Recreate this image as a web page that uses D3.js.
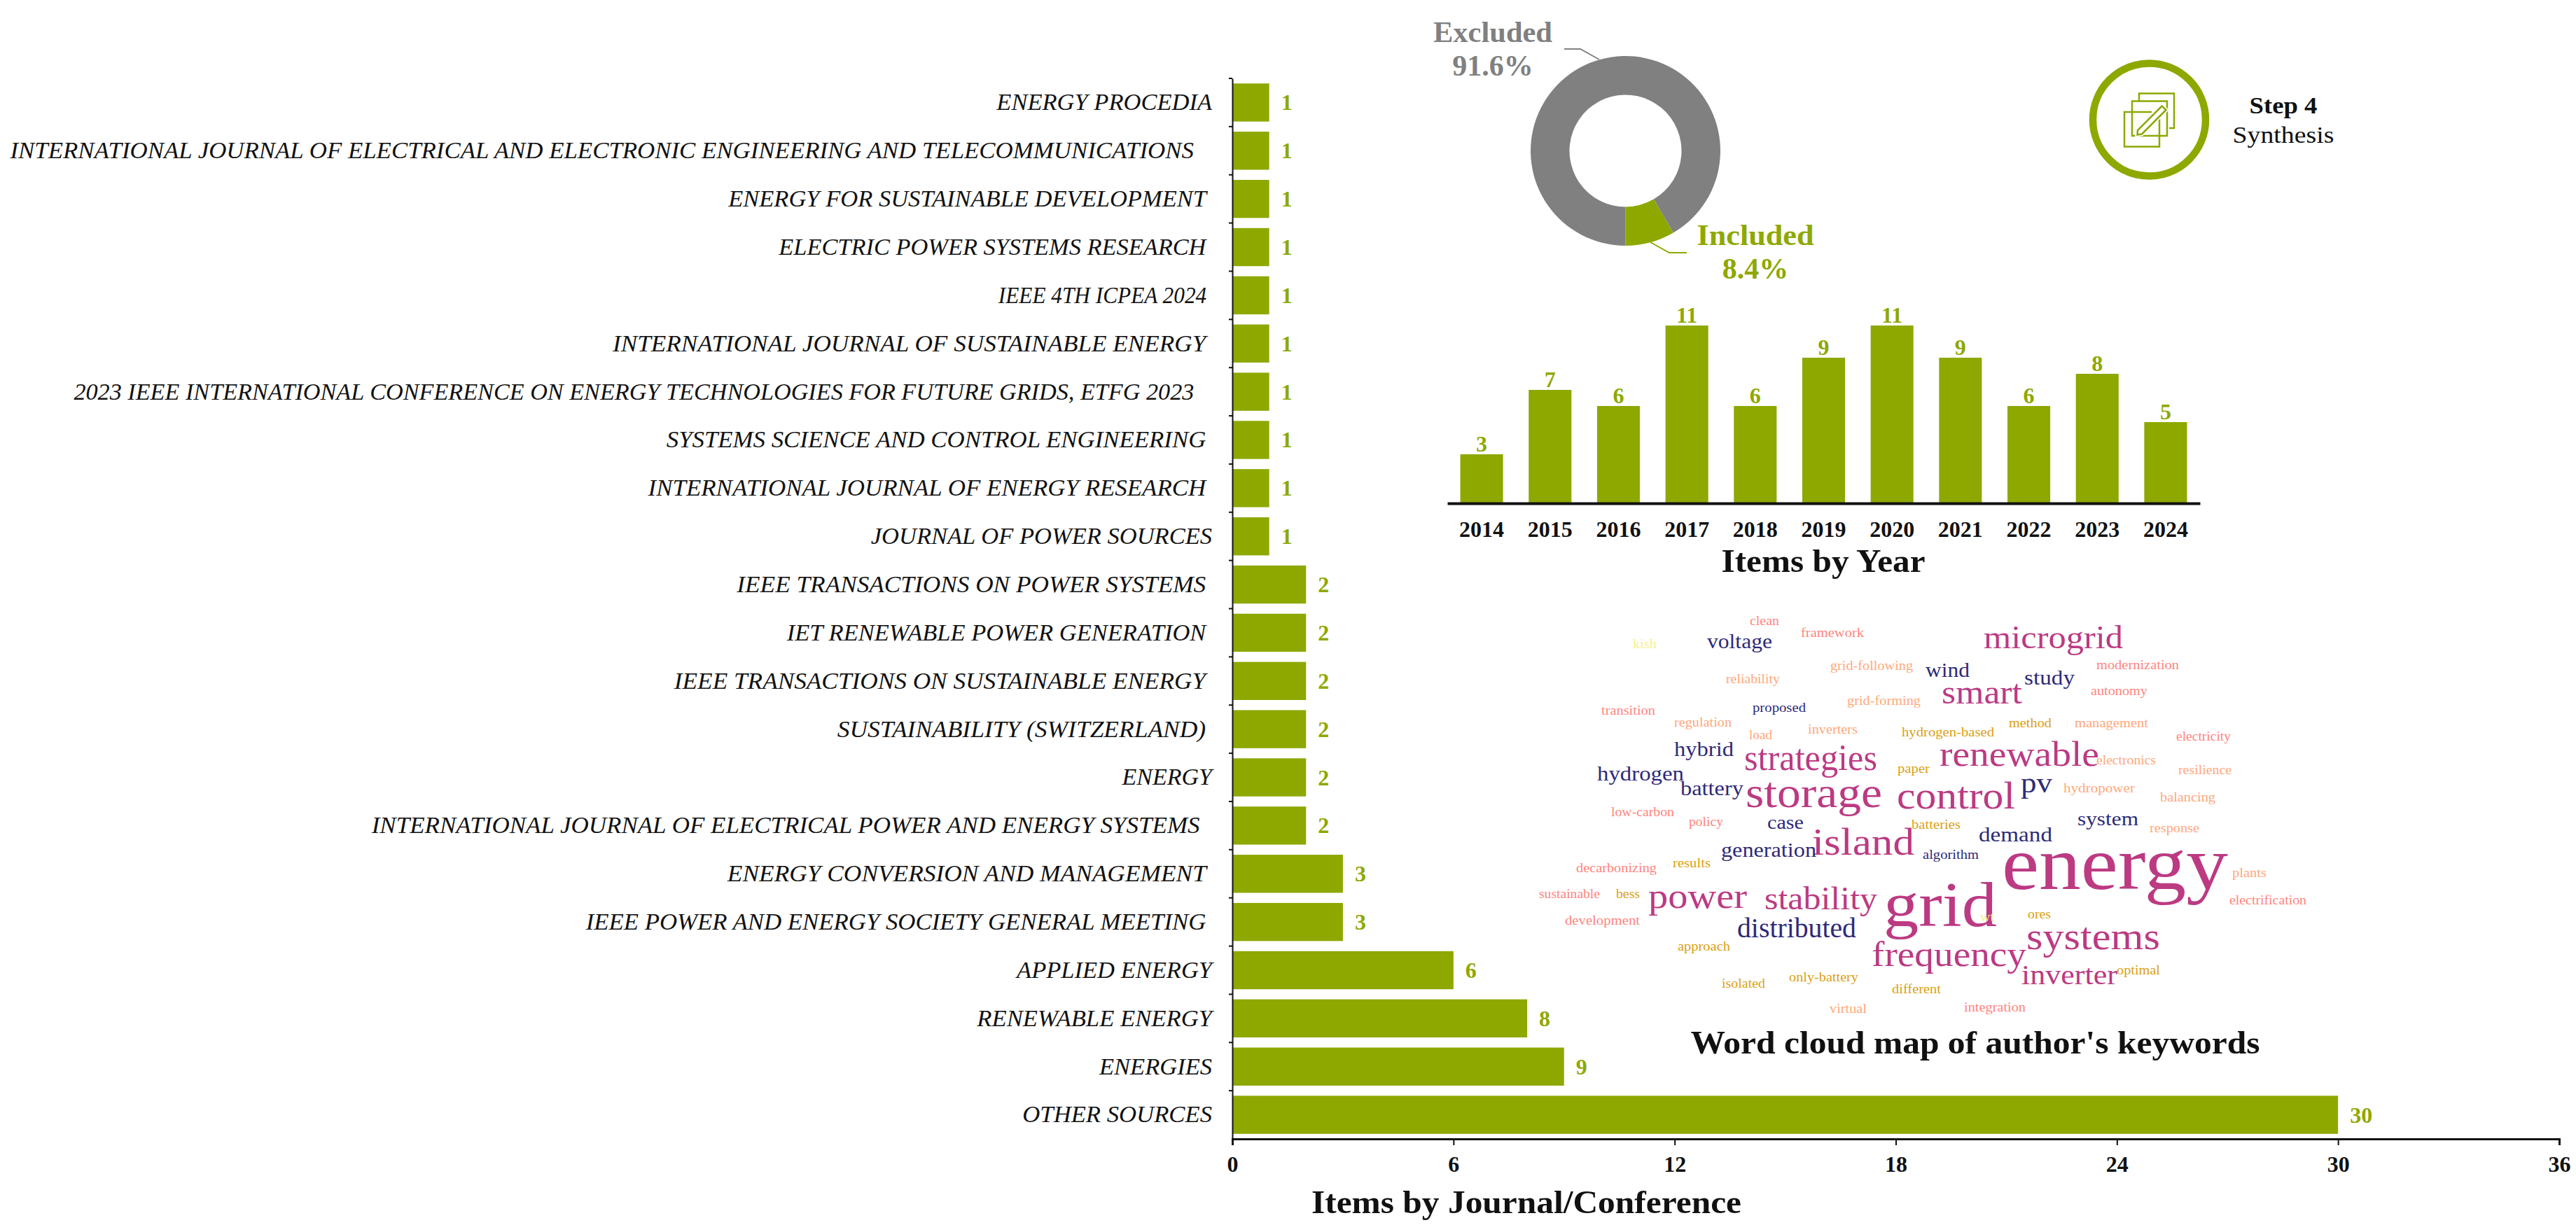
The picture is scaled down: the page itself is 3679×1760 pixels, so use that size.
<!DOCTYPE html>
<html>
<head>
<meta charset="utf-8">
<title>Step 4 Synthesis</title>
<script src="https://cdn.jsdelivr.net/npm/d3@7"></script>
<style>
    html, body { margin: 0; padding: 0; background: #fff; }
    svg { display: block; }
    text { font-family: "Liberation Serif", serif; }
</style>
</head>
<body>
<svg id="chart" width="3679" height="1760"></svg>
<script>
'use strict';

// journals, top to bottom (trailing spaces are in the source labels)
var journals = [
    "ENERGY PROCEDIA",
    "INTERNATIONAL JOURNAL OF ELECTRICAL AND ELECTRONIC ENGINEERING AND TELECOMMUNICATIONS   ",
    "ENERGY FOR SUSTAINABLE DEVELOPMENT ",
    "ELECTRIC POWER SYSTEMS RESEARCH ",
    "IEEE 4TH ICPEA 2024 ",
    "INTERNATIONAL JOURNAL OF SUSTAINABLE ENERGY ",
    "2023 IEEE INTERNATIONAL CONFERENCE ON ENERGY TECHNOLOGIES FOR FUTURE GRIDS, ETFG 2023   ",
    "SYSTEMS SCIENCE AND CONTROL ENGINEERING ",
    "INTERNATIONAL JOURNAL OF ENERGY RESEARCH ",
    "JOURNAL OF POWER SOURCES",
    "IEEE TRANSACTIONS ON POWER SYSTEMS ",
    "IET RENEWABLE POWER GENERATION ",
    "IEEE TRANSACTIONS ON SUSTAINABLE ENERGY ",
    "SUSTAINABILITY (SWITZERLAND) ",
    "ENERGY",
    "INTERNATIONAL JOURNAL OF ELECTRICAL POWER AND ENERGY SYSTEMS  ",
    "ENERGY CONVERSION AND MANAGEMENT ",
    "IEEE POWER AND ENERGY SOCIETY GENERAL MEETING ",
    "APPLIED ENERGY",
    "RENEWABLE ENERGY",
    "ENERGIES",
    "OTHER SOURCES"
];
var journalCounts = [1, 1, 1, 1, 1, 1, 1, 1, 1, 1, 2, 2, 2, 2, 2, 2, 3, 3, 6, 8, 9, 30];
var journalTicks = [0, 6, 12, 18, 24, 30, 36];

var years = ["2014", "2015", "2016", "2017", "2018", "2019", "2020", "2021", "2022", "2023", "2024"];
var yearCounts = [3, 7, 6, 11, 6, 9, 11, 9, 6, 8, 5];

var screeningLabels = ["Excluded", "Included"];
var screeningShares = [91.6, 8.4];

// keywords, relative weight (energy = 100), colour group
var keywords = [
    "clean", "framework", "kish", "voltage", "grid-following", "wind", "reliability", "smart",
    "grid-forming", "transition", "proposed", "regulation", "load", "inverters", "hydrogen-based",
    "hybrid", "strategies", "renewable", "paper", "hydrogen", "battery", "storage", "control",
    "low-carbon", "policy", "case", "batteries", "island", "generation", "algorithm", "results",
    "decarbonizing", "sustainable", "bess", "power", "stability", "grid", "development",
    "distributed", "approach", "frequency", "only-battery", "isolated", "different", "virtual",
    "microgrid", "modernization", "study", "autonomy", "method", "management", "electricity",
    "electronics", "resilience", "pv", "hydropower", "balancing", "system", "response", "demand",
    "energy", "plants", "electrification", "wt", "ores", "systems", "optimal", "inverter", "integration"
];
var keywordWeights = [
    18, 18, 18, 27, 18, 27, 18, 44,
    18, 18, 18, 18, 18, 18, 18,
    27, 49, 47, 18, 27, 27, 57, 50,
    18, 18, 26, 18, 51, 27, 18, 18,
    18, 18, 18, 47, 42, 84, 18,
    38, 18, 46, 18, 18, 18, 18,
    43, 18, 28, 18, 18, 18, 18,
    18, 18, 38, 18, 18, 26, 18, 28,
    100, 18, 18, 18, 18, 51, 18, 37, 18
];
var keywordGroups = [
    3, 3, 5, 1, 4, 1, 4, 0,
    4, 3, 1, 4, 4, 4, 2,
    1, 0, 0, 2, 1, 1, 0, 0,
    3, 3, 1, 2, 0, 1, 1, 2,
    3, 3, 2, 0, 0, 0, 3,
    1, 2, 0, 2, 2, 2, 4,
    0, 3, 1, 3, 2, 4, 3,
    4, 4, 1, 4, 4, 1, 4, 1,
    0, 4, 3, 5, 2, 0, 2, 0, 3
];

// --- layout and styles below, no values ---

var green = "#8EA800";
var grey = "#808080";
var ink = "#111111";
var groupColors = ["#BC3A82", "#2E2A78", "#DC9F12", "#FF8580", "#FFA87C", "#F6F08C"];

// how much each journal label is widened to end where the original does
var labelStretch = [
    1.015, 1.025, 1.015, 1.011, 0.92, 1.035, 1.006, 1.024, 1.027, 1.015, 1.037,
    1.015, 1.037, 1.043, 1.0, 1.029, 1.04, 1.023, 1.015, 1.02, 1.015, 1.02
];

// where each keyword sits in the cloud: left, right, baseline
var cloudPlaces = [
    [2499, 2541, 893], [2572, 2662, 910], [2332, 2366, 926], [2438, 2531, 926], [2614, 2732, 957],
    [2750, 2813, 967], [2465, 2542, 976], [2773, 2888, 1005], [2638, 2743, 1007], [2287, 2364, 1021],
    [2503, 2579, 1017], [2391, 2473, 1038], [2498, 2531, 1056], [2582, 2653, 1048], [2716, 2848, 1052],
    [2391, 2476, 1080], [2491, 2681, 1100], [2770, 2998, 1094], [2710, 2756, 1104], [2281, 2405, 1115],
    [2400, 2490, 1136], [2493, 2688, 1153], [2709, 2878, 1155], [2301, 2391, 1166], [2412, 2461, 1180],
    [2524, 2576, 1184], [2730, 2800, 1184], [2588, 2734, 1221], [2458, 2594, 1224], [2746, 2826, 1227],
    [2389, 2443, 1239], [2251, 2366, 1246], [2198, 2285, 1283], [2308, 2342, 1283], [2354, 2495, 1297],
    [2520, 2681, 1299], [2690, 2852, 1323], [2235, 2342, 1321], [2481, 2651, 1339], [2396, 2471, 1358],
    [2673, 2894, 1380], [2555, 2654, 1402], [2459, 2521, 1411], [2702, 2772, 1419], [2613, 2666, 1447],
    [2833, 3032, 926], [2994, 3112, 956], [2891, 2963, 978], [2986, 3067, 993], [2869, 2930, 1039],
    [2963, 3068, 1039], [3108, 3186, 1058], [2994, 3079, 1092], [3111, 3187, 1106], [2886, 2931, 1132],
    [2947, 3049, 1132], [3085, 3164, 1145], [2967, 3054, 1179], [3070, 3141, 1189], [2826, 2931, 1202],
    [2859, 3182, 1270], [3188, 3237, 1253], [3184, 3294, 1292], [2828, 2848, 1316], [2896, 2929, 1312],
    [2894, 3085, 1356], [3023, 3085, 1392], [2887, 3024, 1406], [2805, 2893, 1445]
];

var svg = d3.select('#chart');

// stretch a text to a given width, Palatino runs wider than what we have here
function fitWidth(sel, width) {
    sel.attr('textLength', width).attr('lengthAdjust', 'spacingAndGlyphs');
}

function title(txt, cx, baseline, width) {
    svg.append('text')
        .attr('x', cx)
        .attr('y', baseline)
        .attr('text-anchor', 'middle')
        .attr('font-size', 47)
        .attr('font-weight', 'bold')
        .attr('fill', ink)
        .text(txt)
        .call(fitWidth, width);
}

// journal bars
function drawJournals() {
    var x = d3.scaleLinear().domain([0, 36]).range([1760, 3655]);
    var y = d3.scaleBand().domain(journals).range([112, 1627]).paddingInner(0.21).paddingOuter(0.105);

    svg.append('g')
        .selectAll('rect')
        .data(journals)
        .enter()
        .append('rect')
        .attr('x', x(0))
        .attr('y', function(d) { return y(d); })
        .attr('width', function(d, i) { return x(journalCounts[i]) - x(0); })
        .attr('height', y.bandwidth())
        .attr('fill', green);

    svg.append('g')
        .selectAll('text')
        .data(journals)
        .enter()
        .append('text')
        .attr('x', function(d, i) { return x(journalCounts[i]) + 17; })
        .attr('y', function(d) { return y(d) + y.bandwidth() / 2 + 11; })
        .attr('font-size', 32)
        .attr('font-weight', 'bold')
        .attr('fill', green)
        .text(function(d, i) { return journalCounts[i]; });

    var yAxis = svg.append('g')
        .attr('transform', 'translate(' + x(0) + ',0)')
        .call(d3.axisLeft(y).tickSize(0).tickPadding(29));
    yAxis.select('.domain').attr('stroke', ink).attr('stroke-width', 2);
    yAxis.selectAll('text')
        .attr('font-size', 34)
        .attr('font-style', 'italic')
        .attr('font-family', '"Liberation Serif", serif')
        .attr('fill', ink)
        .style('white-space', 'pre')
        .each(function(d, i) {
            d3.select(this).call(fitWidth, this.getComputedTextLength() * labelStretch[i]);
        });

    // ticks sit between the bars
    var step = y.step();
    yAxis.selectAll('line.gap')
        .data(journals)
        .enter()
        .append('line')
        .attr('class', 'gap')
        .attr('x1', -5)
        .attr('x2', 0)
        .attr('y1', function(d) { return y(d) - (step - y.bandwidth()) / 2; })
        .attr('y2', function(d) { return y(d) - (step - y.bandwidth()) / 2; })
        .attr('stroke', ink)
        .attr('stroke-width', 2);

    var xAxis = svg.append('g')
        .attr('transform', 'translate(0,1627)')
        .call(d3.axisBottom(x).tickValues(journalTicks).tickSize(9).tickSizeOuter(9).tickPadding(15));
    xAxis.select('.domain').attr('stroke', ink).attr('stroke-width', 3);
    xAxis.selectAll('.tick line').attr('stroke', ink).attr('stroke-width', 2);
    xAxis.selectAll('text')
        .attr('font-size', 32)
        .attr('font-weight', 'bold')
        .attr('font-family', '"Liberation Serif", serif')
        .attr('fill', ink);

    title("Items by Journal/Conference", 2180, 1733, 614);
}

// year bars
function drawYears() {
    var x = d3.scaleBand().domain(years).range([2067, 3142]).paddingInner(0.375).paddingOuter(0.19);
    var y = d3.scaleLinear().domain([0, 11]).range([718, 465]);

    svg.append('g')
        .selectAll('rect')
        .data(years)
        .enter()
        .append('rect')
        .attr('x', function(d) { return x(d); })
        .attr('y', function(d, i) { return y(yearCounts[i]); })
        .attr('width', x.bandwidth())
        .attr('height', function(d, i) { return y(0) - y(yearCounts[i]); })
        .attr('fill', green);

    svg.append('g')
        .selectAll('text')
        .data(years)
        .enter()
        .append('text')
        .attr('x', function(d) { return x(d) + x.bandwidth() / 2; })
        .attr('y', function(d, i) { return y(yearCounts[i]) - 4; })
        .attr('text-anchor', 'middle')
        .attr('font-size', 32)
        .attr('font-weight', 'bold')
        .attr('fill', green)
        .text(function(d, i) { return yearCounts[i]; });

    var xAxis = svg.append('g')
        .attr('transform', 'translate(0,719)')
        .call(d3.axisBottom(x).tickSize(0).tickPadding(25));
    xAxis.select('.domain').attr('stroke', ink).attr('stroke-width', 4);
    xAxis.selectAll('text')
        .attr('font-size', 32)
        .attr('font-weight', 'bold')
        .attr('font-family', '"Liberation Serif", serif')
        .attr('fill', ink);

    title("Items by Year", 2604, 817, 291);
}

// donut with its two callouts
function drawDonut() {
    var pie = d3.pie().sort(null).startAngle(Math.PI).endAngle(3 * Math.PI);
    var arc = d3.arc().innerRadius(80).outerRadius(135.5);
    var colors = [grey, green];

    var g = svg.append('g').attr('transform', 'translate(2321.5,215.5)');
    g.selectAll('path')
        .data(pie(screeningShares))
        .enter()
        .append('path')
        .attr('d', arc)
        .attr('fill', function(d, i) { return colors[i]; });

    var callouts = [
        { line: [[2234, 70], [2257, 70], [2284, 85]], cx: 2132, y1: 60, y2: 108, w: 170 },
        { line: [[2357, 346], [2384, 361], [2409, 361]], cx: 2507, y1: 350, y2: 398, w: 167 }
    ];
    callouts.forEach(function(c, i) {
        svg.append('path')
            .attr('d', d3.line()(c.line))
            .attr('fill', 'none')
            .attr('stroke', colors[i])
            .attr('stroke-width', 2);
        svg.append('text')
            .attr('x', c.cx)
            .attr('y', c.y1)
            .attr('text-anchor', 'middle')
            .attr('font-size', 42)
            .attr('font-weight', 'bold')
            .attr('fill', colors[i])
            .text(screeningLabels[i])
            .call(fitWidth, c.w);
        svg.append('text')
            .attr('x', c.cx)
            .attr('y', c.y2)
            .attr('text-anchor', 'middle')
            .attr('font-size', 42)
            .attr('font-weight', 'bold')
            .attr('fill', colors[i])
            .text(screeningShares[i] + "%");
    });
}

// step badge, top right
function drawBadge() {
    svg.append('circle')
        .attr('cx', 3069.5)
        .attr('cy', 171)
        .attr('r', 80.5)
        .attr('fill', 'none')
        .attr('stroke', green)
        .attr('stroke-width', 10.5);

    // three sheets, only the middle one is closed
    var outlines = [
        'M3055 144 V133.5 H3105 V183 H3098',
        'M3073 160 H3034 V209.5 H3084 V170',
        'M3045 144.5 H3095 V194 H3045 Z'
    ];
    svg.append('g')
        .selectAll('path')
        .data(outlines)
        .enter()
        .append('path')
        .attr('d', function(d) { return d; })
        .attr('fill', 'none')
        .attr('stroke', green)
        .attr('stroke-width', 2.5);

    var pencil = 'M3052.5 192.5 L3053 186 L3087.5 151.5 L3093.5 157 L3059 191.5 Z';
    svg.append('path')
        .attr('d', pencil)
        .attr('fill', '#fff')
        .attr('stroke', '#fff')
        .attr('stroke-width', 6);
    svg.append('path')
        .attr('d', pencil)
        .attr('fill', '#fff')
        .attr('stroke', green)
        .attr('stroke-width', 2.5);

    svg.append('text')
        .attr('x', 3261)
        .attr('y', 162)
        .attr('text-anchor', 'middle')
        .attr('font-size', 33)
        .attr('font-weight', 'bold')
        .attr('fill', ink)
        .text("Step 4")
        .call(fitWidth, 97);
    svg.append('text')
        .attr('x', 3261)
        .attr('y', 204)
        .attr('text-anchor', 'middle')
        .attr('font-size', 33)
        .attr('fill', ink)
        .text("Synthesis")
        .call(fitWidth, 145);
}

// word cloud, placed by hand from the picture
function drawCloud() {
    var size = d3.scaleLinear().domain([0, 100]).range([0, 108]);

    svg.append('g')
        .selectAll('text')
        .data(keywords)
        .enter()
        .append('text')
        .attr('x', function(d, i) { return cloudPlaces[i][0]; })
        .attr('y', function(d, i) { return cloudPlaces[i][2]; })
        .attr('font-size', function(d, i) { return size(keywordWeights[i]); })
        .attr('fill', function(d, i) { return groupColors[keywordGroups[i]]; })
        .attr('textLength', function(d, i) { return cloudPlaces[i][1] - cloudPlaces[i][0]; })
        .attr('lengthAdjust', 'spacingAndGlyphs')
        .text(function(d) { return d; });

    title("Word cloud map of author's keywords", 2821, 1505, 813);
}

drawJournals();
drawDonut();
drawBadge();
drawYears();
drawCloud();
</script>
</body>
</html>
